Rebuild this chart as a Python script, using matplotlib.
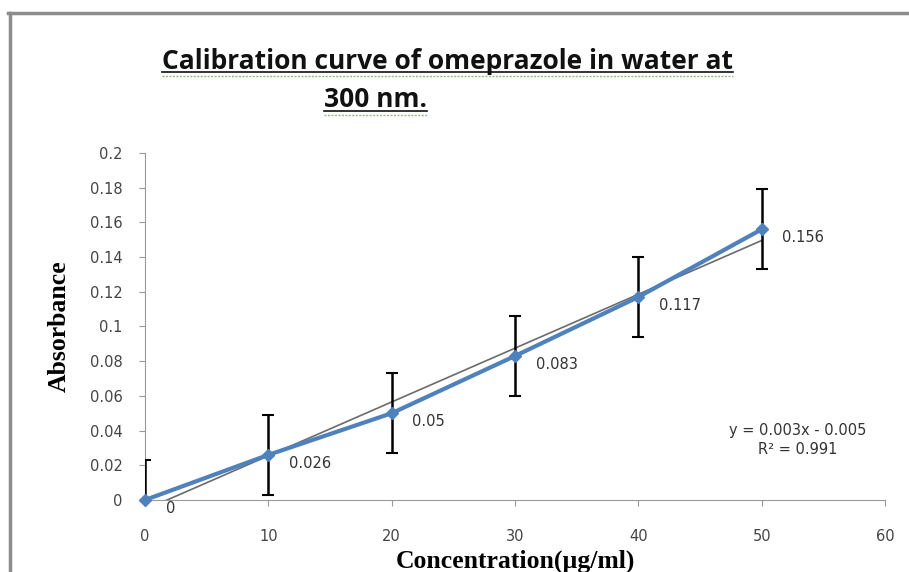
import numpy as np
import matplotlib.pyplot as plt
from matplotlib.lines import Line2D

# Data
conc = [0, 10, 20, 30, 40, 50]
absorb = [0, 0.026, 0.05, 0.083, 0.117, 0.156]
err = [0.023, 0.023, 0.023, 0.023, 0.023, 0.023]
point_labels = ["0", "0.026", "0.05", "0.083", "0.117", "0.156"]
yticks = [0, 0.02, 0.04, 0.06, 0.08, 0.1, 0.12, 0.14, 0.16, 0.18, 0.2]
ytick_labels = ["0", "0.02", "0.04", "0.06", "0.08", "0.1", "0.12", "0.14", "0.16", "0.18", "0.2"]
xticks = [0, 10, 20, 30, 40, 50, 60]

fig = plt.figure(figsize=(9.09, 5.72), dpi=100)
ax = fig.add_axes([0.1595, 0.1259, 0.8141, 0.6066])

# outer chart frame (only top and left visible)
fig.add_artist(Line2D([0.009, 1.0], [0.977, 0.977], color="#8c8c8c", lw=2.5))
fig.add_artist(Line2D([0.011, 0.011], [0.0, 0.977], color="#8c8c8c", lw=2.5))

# linear trendline
coef = np.polyfit(conc, absorb, 1)
xs = np.array([conc[0], conc[-1]])
ax.plot(xs, np.polyval(coef, xs), color="#6b6b6b", lw=1.2, zorder=2)

ax.errorbar(conc, absorb, yerr=err, fmt="none", ecolor="black", elinewidth=1.8,
            capsize=4, capthick=1.5, zorder=3)
ax.plot(conc, absorb, color="#4f81bd", lw=3, marker="D", markersize=6,
        zorder=4, clip_on=False)

for x, y, t in zip(conc, absorb, point_labels):
    ax.annotate(t, (x, y), xytext=(15, -6), textcoords="offset points",
                fontsize=10.5, color="#333333", va="center", ha="left")

ax.text(52.9, 0.0346, "y = 0.003x - 0.005\nR² = 0.991", ha="center", va="center",
        fontsize=10.5, color="#333333", linespacing=1.3)

ax.set_xlim(0, 60)
ax.set_ylim(0, 0.2)
ax.set_xticks(xticks)
ax.set_yticks(yticks)
ax.set_yticklabels(ytick_labels)
ax.tick_params(labelsize=10.5, labelcolor="#444444", color="#999999", length=4)
ax.tick_params(axis="x", pad=17)
ax.tick_params(axis="y", pad=12)
for s in ["top", "right"]:
    ax.spines[s].set_visible(False)
for s in ["left", "bottom"]:
    ax.spines[s].set_color("#999999")

ax.set_ylabel("Absorbance", family="Liberation Serif", fontweight="bold", fontsize=18.5, labelpad=14)
ax.set_xlabel("Concentration(µg/ml)", family="Liberation Serif", fontweight="bold", fontsize=18.5, labelpad=4)

# title with underline
title_font = ["Liberation Sans Narrow", "Open Sans", "DejaVu Sans"]
t1 = fig.text(0.492, 0.893, "Calibration curve of omeprazole in water at", ha="center", va="center",
              family=title_font, fontweight="bold", fontsize=19, color="#111111")
t2 = fig.text(0.413, 0.826, "300 nm.", ha="center", va="center",
              family=title_font, fontweight="bold", fontsize=19, color="#111111")
fig.canvas.draw()
inv = fig.transFigure.inverted()
for t in (t1, t2):
    bb = t.get_window_extent().transformed(inv)
    y0 = bb.y0 + 0.004
    fig.add_artist(Line2D([bb.x0, bb.x1], [y0, y0], color="#111111", lw=1.2))
    fig.add_artist(Line2D([bb.x0, bb.x1], [y0 - 0.007, y0 - 0.007], color="#8fbf7f", lw=1, ls=(0, (1.5, 1))))

fig.savefig("out.png", dpi=100)
